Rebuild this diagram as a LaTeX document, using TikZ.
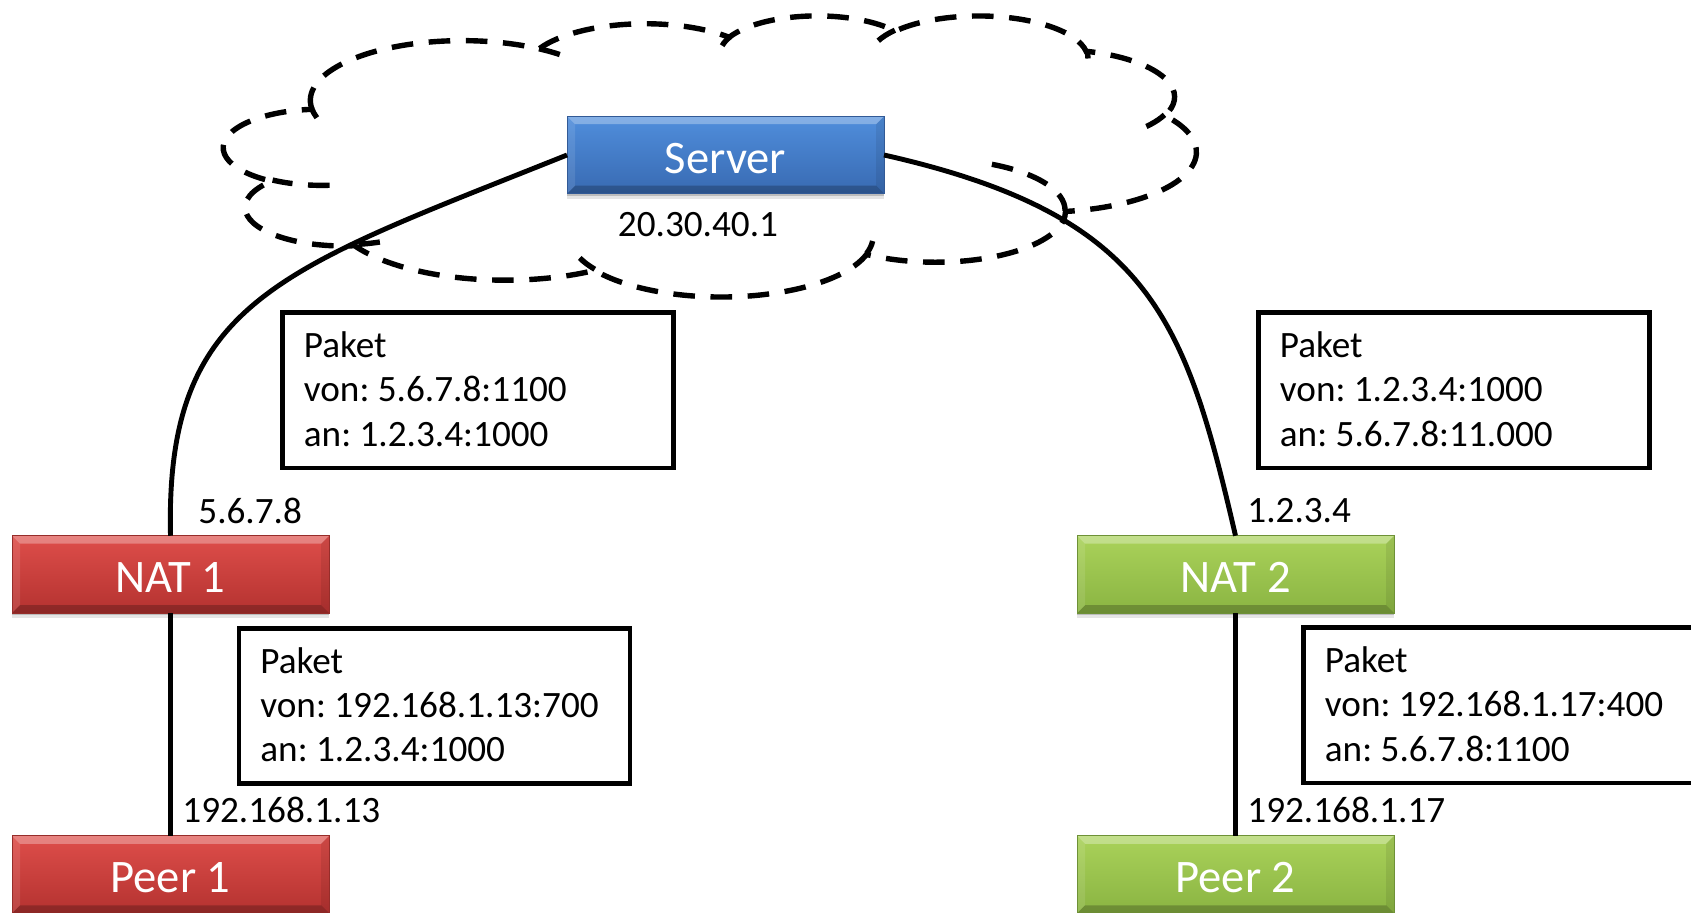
\documentclass[tikz,border=0pt]{standalone}
\usepackage{fontspec}
\setmainfont{Carlito}
\usetikzlibrary{shadows}
\frenchspacing

\definecolor{srvtop}{RGB}{80,142,220}
\definecolor{srvbot}{RGB}{56,106,178}
\definecolor{srvline}{RGB}{50,90,150}
\definecolor{redtop}{RGB}{222,78,74}
\definecolor{redbot}{RGB}{180,50,48}
\definecolor{redline}{RGB}{150,45,42}
\definecolor{grntop}{RGB}{170,210,90}
\definecolor{grnbot}{RGB}{138,180,66}
\definecolor{grnline}{RGB}{110,145,55}

% elliptical arc in the style of a preset shape path:
% x radius, y radius, start angle, sweep (angles measured visually)
\newcommand\cloudarc[4]{%
  \pgfmathsetmacro\arcA{atan2(#1*sin(#3),#2*cos(#3))}%
  \pgfmathsetmacro\arcB{atan2(#1*sin(#3+#4),#2*cos(#3+#4))}%
  \pgfmathsetmacro\arcD{\arcB-\arcA}%
  \pgfmathsetmacro\arcD{\arcD+360*(#4>0)*(\arcD<0)-360*(#4<0)*(\arcD>0)}%
  \pgfmathsetmacro\arcB{\arcA+\arcD}%
  \pgfpatharcaxes{\arcA}{\arcB}{\pgfpointxy{#1}{0}}{\pgfpointxy{0}{#2}}%
}

\begin{document}
\begin{tikzpicture}[x=0.5pt, y=-0.5pt,
  devbox/.style={minimum width=158.5pt, minimum height=38.75pt,
    inner sep=0pt, outer sep=0pt, draw=#1line, line width=0.4pt,
    top color=#1top, bottom color=#1bot, text=white,
    text height=18.3pt, text depth=0pt,
    font=\fontsize{23.3}{28}\selectfont,
    drop shadow={shadow xshift=0pt, shadow yshift=-1pt, opacity=.18, fill=black},
    drop shadow={shadow xshift=0pt, shadow yshift=-2.4pt, opacity=.10, fill=black},
    path picture={
      \fill[white, opacity=.30] (path picture bounding box.north west)
        -- (path picture bounding box.north east)
        -- ([shift={(-8,8)}]path picture bounding box.north east)
        -- ([shift={(8,8)}]path picture bounding box.north west) -- cycle;
      \fill[white, opacity=.10] (path picture bounding box.north west)
        -- ([shift={(8,8)}]path picture bounding box.north west)
        -- ([shift={(8,-8)}]path picture bounding box.south west)
        -- (path picture bounding box.south west) -- cycle;
      \fill[black, opacity=.08] (path picture bounding box.north east)
        -- (path picture bounding box.south east)
        -- ([shift={(-8,-8)}]path picture bounding box.south east)
        -- ([shift={(-8,8)}]path picture bounding box.north east) -- cycle;
      \fill[black, opacity=.22] (path picture bounding box.south west)
        -- (path picture bounding box.south east)
        -- ([shift={(-8,-8)}]path picture bounding box.south east)
        -- ([shift={(8,-8)}]path picture bounding box.south west) -- cycle;
    }},
  pktbox/.style={draw, line width=2.35pt, fill=white, inner sep=0pt,
    outer sep=0pt, minimum width=195.5pt, minimum height=77.6pt,
    anchor=north west},
  pkttext/.style={inner sep=0pt, anchor=base west,
    font=\fontsize{18.6}{22.15}\selectfont},
  addr/.style={inner sep=0pt, font=\fontsize{18.6}{22.15}\selectfont},
  wire/.style={line width=2.45pt}]

\useasboundingbox (0,0) rectangle (1691,913);
\clip (0,0) rectangle (1691,913);

% dashed cloud around the server
\begin{scope}[shift={(224,15)}, x=1.125pt, y=-0.32523pt,
              line width=2.7pt, dash pattern=on 10.8pt off 7.8pt]
  \pgfpathmoveto{\pgfpointxy{39.00}{143.70}}
  \cloudarc{67.53}{91.90}{-190.48748}{123.78053}
  \cloudarc{53.33}{72.67}{-144.10238}{89.94523}
  \cloudarc{43.65}{59.45}{-145.80792}{99.72302}
  \cloudarc{48.57}{65.95}{-130.98607}{117.24173}
  \cloudarc{53.33}{72.73}{-78.70888}{109.02692}
  \cloudarc{67.75}{92.20}{-46.26725}{130.26900}
  \cloudarc{57.85}{78.67}{0.62502}{114.03333}
  \cloudarc{67.52}{92.15}{22.45160}{115.17255}
  \cloudarc{77.20}{105.43}{66.24263}{75.71102}
  \cloudarc{43.60}{59.18}{-274.94208}{146.73557}
  \cloudarc{43.45}{59.45}{-246.82850}{152.51885}
  \pgfpathclose
  \pgfusepath{stroke}
  % inner strokes where the bumps overlap
  \pgfpathmoveto{\pgfpointxy{46.93}{261.77}}
  \cloudarc{43.45}{59.45}{86.74200}{26.42950}
  \pgfpathmoveto{\pgfpointxy{69.28}{348.99}}
  \cloudarc{43.60}{59.18}{73.61047}{11.44747}
  \pgfpathmoveto{\pgfpointxy{164.78}{390.90}}
  \cloudarc{67.52}{92.15}{137.62415}{14.08110}
  \pgfpathmoveto{\pgfpointxy{288.27}{347.51}}
  \cloudarc{67.52}{92.15}{6.45327}{15.99835}
  \pgfpathmoveto{\pgfpointxy{341.29}{229.54}}
  \cloudarc{57.85}{78.67}{-70.29235}{70.91737}
  \pgfpathmoveto{\pgfpointxy{417.98}{153.54}}
  \cloudarc{53.33}{72.73}{30.31803}{27.75150}
  \pgfpathmoveto{\pgfpointxy{383.24}{54.26}}
  \cloudarc{48.57}{65.95}{-13.74433}{14.85890}
  \pgfpathmoveto{\pgfpointxy{290.78}{39.52}}
  \cloudarc{48.57}{65.95}{-149.18145}{18.19537}
  \pgfpathmoveto{\pgfpointxy{221.41}{47.20}}
  \cloudarc{43.65}{59.45}{-163.49427}{17.68635}
  \pgfpathmoveto{\pgfpointxy{140.00}{51.92}}
  \cloudarc{67.53}{91.90}{-66.70695}{12.31935}
  \pgfpathmoveto{\pgfpointxy{41.27}{157.89}}
  \cloudarc{67.53}{91.90}{157.65435}{11.85817}
  \pgfusepath{stroke}
\end{scope}

% devices
\node[devbox=srv] (srv) at (725.5,155) {Server};
\node[devbox=red] (nat1) at (170.5,574.5) {NAT 1};
\node[devbox=red] (peer1) at (170.5,874.5) {Peer 1};
\node[devbox=grn] (nat2) at (1235.5,574.5) {NAT 2};
\node[devbox=grn] (peer2) at (1235.5,874.5) {Peer 2};

% links
\draw[wire] (srv.west) .. controls (280,270) and (165,300) .. (nat1.north);
\draw[wire] (srv.east) .. controls (1150,215) and (1185,318) .. (nat2.north);
\draw[wire] (nat1.south) -- (peer1.north);
\draw[wire] (nat2.south) -- (peer2.north);

% addresses
\node[addr] (asrv) at (698,225) {20.30.40.1};
\node[addr, anchor=west] (anat1) at (198,511) {5.6.7.8};
\node[addr, anchor=west] (anat2) at (1247,511) {1.2.3.4};
\node[addr, anchor=west] (apeer1) at (182,810) {192.168.1.13};
\node[addr, anchor=west] (apeer2) at (1247,810) {192.168.1.17};

% packets
\node[pktbox] (pk1) at (282.5,312.7) {};
\node[pkttext] (pk1t) at ([shift={(21,44.8)}]pk1.north west)
  {\begin{tabular}[t]{@{}l@{}}Paket\\von: 5.6.7.8:1100\\an: 1.2.3.4:1000\end{tabular}};
\node[pktbox] (pk2) at (1258.5,312.7) {};
\node[pkttext] (pk2t) at ([shift={(21,44.8)}]pk2.north west)
  {\begin{tabular}[t]{@{}l@{}}Paket\\von: 1.2.3.4:1000\\an: 5.6.7.8:11.000\end{tabular}};
\node[pktbox] (pk3) at (239,628.3) {};
\node[pkttext] (pk3t) at ([shift={(21,44.8)}]pk3.north west)
  {\begin{tabular}[t]{@{}l@{}}Paket\\von: 192.168.1.13:700\\an: 1.2.3.4:1000\end{tabular}};
\node[pktbox] (pk4) at (1303.5,627.7) {};
\node[pkttext] (pk4t) at ([shift={(21,44.8)}]pk4.north west)
  {\begin{tabular}[t]{@{}l@{}}Paket\\von: 192.168.1.17:400\\an: 5.6.7.8:1100\end{tabular}};
\end{tikzpicture}
\end{document}
